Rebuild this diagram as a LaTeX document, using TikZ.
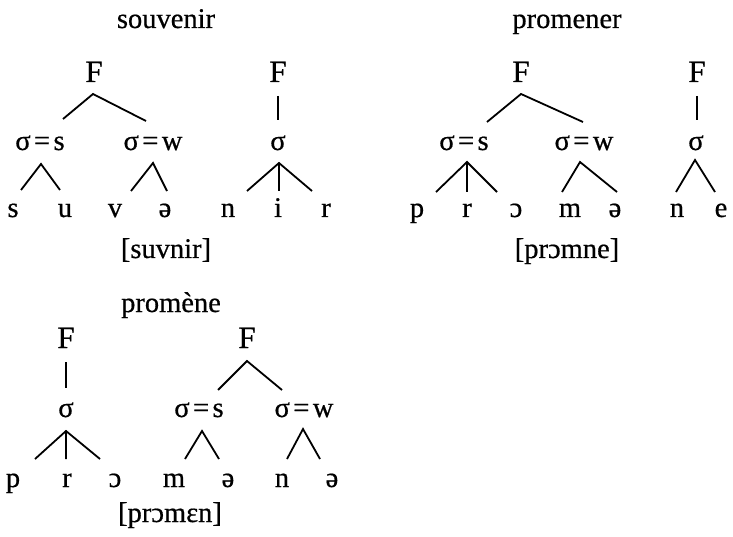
\documentclass[tikz,border=0pt]{standalone}
\usepackage{fontspec}
\setmainfont[FakeBold=0.6]{Liberation Serif}
\newcommand{\eqs}[1]{σ\hspace{0.12em}=\hspace{0.12em}#1}
\begin{document}
\begin{tikzpicture}[x=1pt,y=-1pt,
  txt/.style={inner sep=0pt,anchor=base,font=\fontsize{28.5}{32}\selectfont},
  ftxt/.style={txt,font=\fontsize{31}{34}\selectfont},
  br/.style={line width=1.8pt}]
\useasboundingbox (0,0) rectangle (733,537);
% ---------- souvenir ----------
\node[txt] (t1) at (166,28) {souvenir};
\node[ftxt] (F1a) at (94,82) {F};
\node[ftxt] (F1b) at (278,82) {F};
\node[txt] (S1a) at (40,150) {\eqs{s}};
\node[txt] (S1b) at (153,150) {\eqs{w}};
\node[txt] (S1c) at (278,150) {σ};
\node[txt] (l1a) at (13,217) {s};
\node[txt] (l1b) at (65,217) {u};
\node[txt] (l1c) at (115,217) {v};
\node[txt] (l1d) at (165,217) {ə};
\node[txt] (l1e) at (228,217) {n};
\node[txt] (l1f) at (278,217) {i};
\node[txt] (l1g) at (326,217) {r};
\node[txt] (b1) at (166,258) {[suvnir]};
\coordinate (a1) at (93,94); \coordinate (a1l) at (63,119); \coordinate (a1r) at (146,121);
\coordinate (a2) at (278,96); \coordinate (a2b) at (278,120);
\coordinate (a3) at (41,164); \coordinate (a3l) at (21,190); \coordinate (a3r) at (60,190);
\coordinate (a4) at (153,163); \coordinate (a4l) at (131,191); \coordinate (a4r) at (167,191);
\coordinate (a5) at (279,163); \coordinate (a5l) at (247,191); \coordinate (a5m) at (279,191); \coordinate (a5r) at (312,191);
\draw[br] (a1l) -- (a1) -- (a1r);
\draw[br] (a2) -- (a2b);
\draw[br] (a3l) -- (a3) -- (a3r);
\draw[br] (a4l) -- (a4) -- (a4r);
\draw[br] (a5l) -- (a5) -- (a5r) (a5) -- (a5m);
% ---------- promener ----------
\node[txt] (t2) at (567,28) {promener};
\node[ftxt] (F2a) at (521,82) {F};
\node[ftxt] (F2b) at (697,82) {F};
\node[txt] (S2a) at (464,150) {\eqs{s}};
\node[txt] (S2b) at (584,150) {\eqs{w}};
\node[txt] (S2c) at (696,150) {σ};
\node[txt] (l2a) at (417,217) {p};
\node[txt] (l2b) at (467,217) {r};
\node[txt] (l2c) at (516,217) {ɔ};
\node[txt] (l2d) at (570,217) {m};
\node[txt] (l2e) at (615,217) {ə};
\node[txt] (l2f) at (677,217) {n};
\node[txt] (l2g) at (721,217) {e};
\node[txt] (b2) at (567,258) {[prɔmne]};
\coordinate (c1) at (521,94); \coordinate (c1l) at (487,122); \coordinate (c1r) at (583,122);
\coordinate (c2) at (697,96); \coordinate (c2b) at (697,120);
\coordinate (c3) at (467,162); \coordinate (c3l) at (436,192); \coordinate (c3m) at (467,192); \coordinate (c3r) at (497,192);
\coordinate (c4) at (580,162); \coordinate (c4l) at (562,192); \coordinate (c4r) at (617,192);
\coordinate (c5) at (695,160); \coordinate (c5l) at (676,192); \coordinate (c5r) at (715,192);
\draw[br] (c1l) -- (c1) -- (c1r);
\draw[br] (c2) -- (c2b);
\draw[br] (c3l) -- (c3) -- (c3r) (c3) -- (c3m);
\draw[br] (c4l) -- (c4) -- (c4r);
\draw[br] (c5l) -- (c5) -- (c5r);
% ---------- promène ----------
\node[txt] (t3) at (171,312) {promène};
\node[ftxt] (F3a) at (66,348) {F};
\node[ftxt] (F3b) at (247,348) {F};
\node[txt] (S3a) at (66,417) {σ};
\node[txt] (S3b) at (199,417) {\eqs{s}};
\node[txt] (S3c) at (304,417) {\eqs{w}};
\node[txt] (l3a) at (13,487) {p};
\node[txt] (l3b) at (67,487) {r};
\node[txt] (l3c) at (115,487) {ɔ};
\node[txt] (l3d) at (174,487) {m};
\node[txt] (l3e) at (228,487) {ə};
\node[txt] (l3f) at (282,487) {n};
\node[txt] (l3g) at (332,487) {ə};
\node[txt] (b3) at (170,522) {[prɔmɛn]};
\coordinate (d1) at (66,362); \coordinate (d1b) at (66,388);
\coordinate (d2) at (247,361); \coordinate (d2l) at (218,390); \coordinate (d2r) at (282,390);
\coordinate (d3) at (66,431); \coordinate (d3l) at (35,459); \coordinate (d3m) at (66,459); \coordinate (d3r) at (100,459);
\coordinate (d4) at (202,431); \coordinate (d4l) at (185,459); \coordinate (d4r) at (219,459);
\coordinate (d5) at (303,429); \coordinate (d5l) at (287,459); \coordinate (d5r) at (320,459);
\draw[br] (d1) -- (d1b);
\draw[br] (d2l) -- (d2) -- (d2r);
\draw[br] (d3l) -- (d3) -- (d3r) (d3) -- (d3m);
\draw[br] (d4l) -- (d4) -- (d4r);
\draw[br] (d5l) -- (d5) -- (d5r);
\end{tikzpicture}
\end{document}
